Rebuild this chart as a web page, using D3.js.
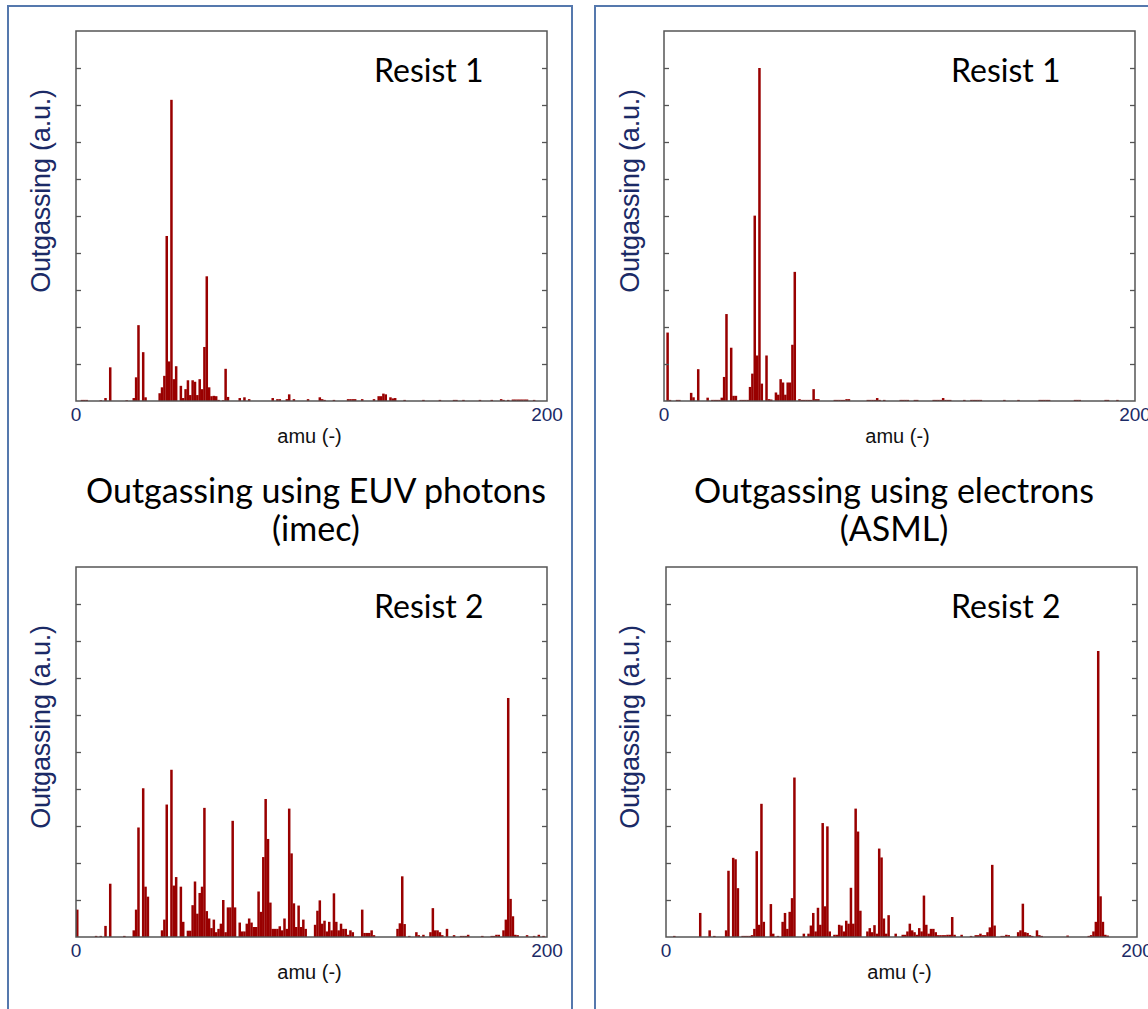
<!DOCTYPE html>
<html><head><meta charset="utf-8">
<script src="https://cdn.jsdelivr.net/npm/d3@7"></script>
<style>body{margin:0;background:#fff} svg{display:block}</style>
</head><body>
<svg id="chart" width="1148" height="1009"></svg>
<script>
// ---------- data ----------
const amuTickLabels = [0, 200];
const yTickValues = [10, 20, 30, 40, 50, 60, 70, 80, 90];
const resistLabels = ["Resist 1", "Resist 1", "Resist 2", "Resist 2"];
const groupTitleEUV = ["Outgassing using EUV photons", "(imec)"];
const groupTitleElectrons = ["Outgassing using electrons", "(ASML)"];
const yAxisTitle = "Outgassing (a.u.)";
const xAxisTitle = "amu (-)";

// [amu, outgassing (a.u., % of full scale)]
const euvResist1 = [[2,0.3],[3,0.3],[4,0.3],[10,0.2],[12,0.8],[14,9.1],[21,0.2],[24,0.8],[25,6.4],[26,20.5],[28,13.2],[29,1.0],[35,2.1],[36,3.7],[37,6.8],[38,44.6],[39,10.7],[40,81.4],[41,5.9],[42,9.4],[44,4.1],[45,0.8],[46,3.2],[47,5.6],[48,1.6],[49,5.6],[50,5.2],[51,1.6],[52,5.9],[53,3.2],[54,14.6],[55,33.7],[56,3.7],[57,1.3],[58,1.4],[59,1.3],[60,0.3],[62,0.2],[63,8.7],[64,1.1],[69,0.8],[71,1.0],[73,0.5],[83,0.8],[85,0.5],[86,0.5],[89,0.5],[90,1.8],[92,0.5],[98,0.5],[103,1.0],[104,0.5],[105,0.3],[109,0.3],[115,0.5],[116,0.5],[117,0.5],[118,0.5],[121,0.5],[126,0.5],[128,1.3],[129,1.3],[130,2.0],[131,1.8],[133,1.0],[134,0.7],[135,0.8],[139,0.3],[147,0.3],[154,0.3],[160,0.3],[161,0.3],[164,0.3],[171,0.3],[176,0.3],[180,0.5],[181,0.3],[183,0.3],[185,0.4],[186,0.4],[187,0.4],[188,0.4],[189,0.4],[190,0.4],[191,0.4],[194,0.3]];

const electronResist1 = [[1,18.5],[2,0.3],[5,0.3],[6,0.3],[11,2.2],[12,1.0],[14,8.6],[18,0.9],[20,0.3],[21,0.3],[22,0.3],[23,0.3],[24,0.9],[25,6.5],[26,23.5],[28,14.4],[29,1.4],[30,1.4],[32,0.3],[33,0.3],[34,0.3],[35,0.3],[36,3.8],[37,7.4],[38,50.1],[39,12.3],[40,90],[41,4.7],[43,12.3],[44,0.5],[45,0.4],[47,2.3],[48,1.7],[49,5.9],[50,5.0],[51,1.7],[52,5.0],[53,5.0],[54,15.2],[55,34.9],[57,0.5],[58,0.3],[59,0.3],[60,0.3],[61,0.3],[62,0.3],[63,3.2],[64,0.5],[65,0.5],[72,0.3],[73,0.3],[74,0.3],[75,0.3],[76,0.3],[77,0.5],[78,0.5],[86,0.3],[87,0.3],[88,0.3],[89,0.3],[90,0.8],[91,0.3],[93,0.3],[100,0.3],[101,0.3],[102,0.3],[103,0.3],[106,0.3],[107,0.3],[114,0.3],[115,0.3],[116,0.3],[117,0.3],[118,0.8],[119,0.3],[120,0.3],[121,0.3],[127,0.3],[130,0.3],[131,0.3],[132,0.3],[133,0.3],[134,0.3],[144,0.3],[150,0.3],[159,0.3],[160,0.3],[161,0.3],[162,0.3],[163,0.3],[174,0.3],[175,0.3],[176,0.3],[187,0.3],[188,0.3],[192,0.3]];

const euvResist2 = [[0,7.4],[8,0.3],[10,0.3],[12,3.0],[14,14.4],[20,0.3],[24,1.8],[25,7.4],[26,29.6],[28,40.2],[29,13.6],[30,10.9],[36,1.8],[37,4.7],[38,35.8],[40,45.2],[41,13.9],[42,16.2],[44,13.6],[45,4.1],[47,1.7],[48,1.7],[49,8.6],[50,15.0],[51,6.3],[52,11.9],[53,13.6],[54,34.9],[55,7.0],[56,5.0],[57,2.4],[58,4.7],[59,1.3],[60,2.2],[61,3.6],[62,10.0],[63,1.3],[64,8.0],[65,8.0],[66,31.4],[67,8.0],[69,3.9],[70,1.5],[71,1.5],[72,3.6],[73,5.0],[74,3.9],[75,2.7],[76,2.7],[77,12.3],[78,6.8],[79,21.6],[80,37.3],[81,26.5],[82,9.3],[83,2.2],[84,2.2],[85,2.2],[86,2.9],[87,1.8],[88,5.0],[89,2.2],[90,34.7],[91,22.6],[92,9.1],[93,2.7],[94,8.5],[95,2.7],[96,4.7],[97,2.2],[101,3.3],[102,7.1],[103,9.9],[104,3.6],[105,4.4],[106,1.5],[107,4.1],[108,1.8],[109,11.8],[110,4.1],[111,1.8],[112,3.6],[113,2.2],[114,2.2],[115,0.6],[116,1.8],[117,1.3],[121,7.4],[122,1.1],[123,1.1],[124,1.1],[125,1.8],[126,0.5],[136,2.2],[137,3.7],[138,16.4],[139,3.5],[141,0.3],[144,1.3],[145,0.5],[147,0.6],[150,1.3],[151,7.8],[152,1.8],[153,1.8],[154,1.3],[155,0.5],[157,2.2],[160,0.5],[163,0.3],[164,0.3],[165,0.3],[166,0.6],[172,0.3],[176,0.3],[177,0.3],[178,0.6],[179,0.6],[181,1.8],[182,4.7],[183,64.6],[184,10.3],[185,5.6],[186,0.6],[187,0.5],[191,0.5],[194,0.3],[196,0.6],[198,0.3]];

const electronResist2 = [[3,0.3],[14,6.5],[18,1.8],[20,0.3],[25,1.8],[26,17.9],[28,21.4],[29,21.0],[30,13.2],[32,0.3],[33,0.3],[34,0.3],[35,0.3],[36,0.5],[37,2.2],[38,23.2],[39,3.3],[40,36.0],[41,4.1],[44,8.9],[45,0.9],[47,0.3],[49,4.1],[50,6.5],[51,2.2],[52,6.8],[53,10.5],[54,43.1],[58,0.9],[60,0.9],[61,3.1],[62,6.5],[63,1.5],[64,7.9],[65,3.3],[66,30.8],[67,8.3],[68,29.9],[69,1.5],[71,0.6],[72,0.6],[73,3.3],[74,3.1],[75,1.5],[76,4.4],[77,3.6],[78,13.3],[79,3.6],[80,34.7],[81,28.5],[82,7.1],[85,1.5],[86,2.4],[87,1.3],[88,3.2],[89,0.9],[90,23.9],[91,21.5],[92,5.0],[93,0.9],[94,5.9],[97,0.9],[100,0.6],[101,0.6],[102,1.5],[103,3.6],[104,1.8],[105,1.3],[106,0.6],[107,2.4],[108,1.5],[109,11.2],[110,3.3],[111,0.9],[112,2.2],[113,2.2],[114,1.3],[115,0.5],[116,0.5],[117,0.5],[118,0.5],[119,0.6],[120,0.6],[121,5.4],[122,0.6],[125,0.6],[129,0.3],[131,0.5],[132,0.5],[133,0.9],[134,0.5],[135,0.5],[136,1.3],[137,2.6],[138,19.5],[139,3.1],[142,0.3],[143,0.3],[144,0.6],[145,0.5],[149,1.3],[150,1.8],[151,9.0],[152,1.3],[153,1.1],[154,0.5],[155,0.3],[157,1.8],[158,0.5],[159,0.3],[170,0.4],[179,0.3],[180,0.5],[181,1.5],[182,4.1],[183,77.3],[184,11.0],[185,4.1],[186,0.6],[187,0.4]];

// ---------- layout ----------
const svg = d3.select("#chart");
const W = 471, H = 370;
const panels = [
  {data: euvResist1,      left: 76,  top: 31,  label: resistLabels[0], labelX: 374, yTitleX: 41},
  {data: electronResist1, left: 664, top: 31,  label: resistLabels[1], labelX: 951, yTitleX: 630},
  {data: euvResist2,      left: 76,  top: 567, label: resistLabels[2], labelX: 374, yTitleX: 41},
  {data: electronResist2, left: 666, top: 567, label: resistLabels[3], labelX: 951, yTitleX: 630}
];

// outer boxes
svg.append("rect").attr("x", 8).attr("y", 6).attr("width", 564).attr("height", 1100)
  .attr("fill", "none").attr("stroke", "#5578ad").attr("stroke-width", 2);
svg.append("rect").attr("x", 595).attr("y", 6).attr("width", 600).attr("height", 1100)
  .attr("fill", "none").attr("stroke", "#5578ad").attr("stroke-width", 2);

const barColor = "#990000";
const frameColor = "#555";
const navy = "#1b2a66";

panels.forEach(p => {
  const g = svg.append("g").attr("transform", `translate(${p.left},${p.top})`);
  const x = d3.scaleLinear().domain([0, 200]).range([0, W]);
  const y = d3.scaleLinear().domain([0, 100]).range([H, 0]);
  const bw = x(1) - x(0);

  g.selectAll("rect.bar").data(p.data).join("rect").attr("class", "bar")
    .attr("x", d => x(d[0]))
    .attr("width", bw + 0.15)
    .attr("y", d => y(d[1]))
    .attr("height", d => y(0) - y(d[1]))
    .attr("fill", barColor);

  // frame
  g.append("rect").attr("x", 0).attr("y", 0).attr("width", W).attr("height", H)
    .attr("fill", "none").attr("stroke", frameColor).attr("stroke-width", 1.5);

  // inward ticks, left and right
  const axL = d3.axisRight(y).tickValues(yTickValues).tickSize(5).tickFormat("");
  const axR = d3.axisLeft(y).tickValues(yTickValues).tickSize(5).tickFormat("");
  const gl = g.append("g").call(axL);
  const gr = g.append("g").attr("transform", `translate(${W},0)`).call(axR);
  [gl, gr].forEach(a => {
    a.select(".domain").remove();
    a.selectAll("line").attr("stroke", frameColor).attr("stroke-width", 1.3);
  });

  // x tick labels
  g.selectAll("text.xt").data(amuTickLabels).join("text").attr("class", "xt")
    .attr("x", d => x(d)).attr("y", H + 20)
    .attr("text-anchor", "middle")
    .attr("font-family", "Liberation Sans, Arial, sans-serif")
    .attr("font-size", 19).attr("fill", navy)
    .text(d => d);

  // x title
  g.append("text").attr("x", W / 2 - 2).attr("y", H + 42)
    .attr("text-anchor", "middle")
    .attr("font-family", "Liberation Sans, Arial, sans-serif")
    .attr("font-size", 20).attr("fill", "#111")
    .text(xAxisTitle);

  // y title
  svg.append("text")
    .attr("transform", `translate(${p.yTitleX},${p.top + 160}) rotate(-90)`)
    .attr("text-anchor", "middle").attr("dominant-baseline", "central")
    .attr("font-family", "Liberation Sans, Arial, sans-serif")
    .attr("font-size", 27).attr("letter-spacing", -0.2).attr("fill", navy)
    .text(yAxisTitle);

  // resist label
  svg.append("text").attr("x", p.labelX).attr("y", p.top + 51)
    .attr("font-family", "Lato, Calibri, sans-serif")
    .attr("font-size", 32).attr("fill", "#000")
    .text(p.label);
});

// group titles
function groupTitle(lines, cx) {
  lines.forEach((t, i) => {
    svg.append("text").attr("x", cx).attr("y", 503 + i * 38)
      .attr("text-anchor", "middle")
      .attr("font-family", "Lato, Calibri, sans-serif")
      .attr("font-size", 34).attr("fill", "#000")
      .text(t);
  });
}
groupTitle(groupTitleEUV, 316);
groupTitle(groupTitleElectrons, 894);
</script>
</body></html>
